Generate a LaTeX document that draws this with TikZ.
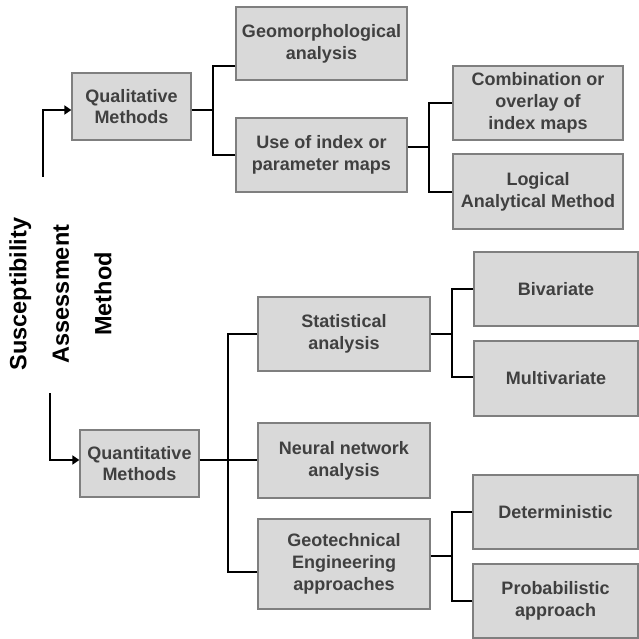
\documentclass[tikz,border=0pt]{standalone}
\usepackage{fontspec}
\setmainfont{Liberation Sans}
\usetikzlibrary{arrows.meta}
\definecolor{boxfill}{HTML}{D9D9D9}
\definecolor{boxline}{HTML}{7F7F7F}
\definecolor{boxtext}{HTML}{404040}
\tikzset{
  box/.style={draw=boxline, line width=1.3pt, fill=boxfill, align=center,
    text=boxtext, font=\fontsize{18}{21.7}\selectfont\bfseries, inner sep=0pt},
  conn/.style={draw=black, line width=2pt},
  arr/.style={conn, -{Triangle[length=7pt,width=9pt]}},
  titletext/.style={rotate=90, align=center, font=\fontsize{23.5}{42.5}\selectfont\bfseries, text=black}
}
\begin{document}
\begin{tikzpicture}[x=1pt,y=-1pt]
\useasboundingbox (0,0) rectangle (639,639);
% boxes
\node[box, minimum width=119pt, minimum height=67pt] (qual) at (131.5,106.5) {Qualitative\\Methods};
\node[box, minimum width=171pt, minimum height=73pt] (geo) at (321.5,43.5) {Geomorphological\\analysis};
\node[box, minimum width=171pt, minimum height=74pt] (useidx) at (321.5,155) {Use of index or\\parameter maps};
\node[box, minimum width=170pt, minimum height=74pt] (comb) at (538,103) {Combination or\\overlay of\\index maps};
\node[box, minimum width=170pt, minimum height=75pt] (logic) at (538,191.5) {Logical\\Analytical Method};
\node[box, minimum width=119pt, minimum height=67pt] (quant) at (139.5,463.5) {Quantitative\\Methods};
\node[box, minimum width=172pt, minimum height=74pt] (stat) at (344,334) {Statistical\\analysis};
\node[box, minimum width=172pt, minimum height=75pt] (neural) at (344,460.5) {Neural network\\analysis};
\node[box, minimum width=172pt, minimum height=90pt] (geotech) at (344,564) {Geotechnical\\Engineering\\approaches};
\node[box, minimum width=164pt, minimum height=74pt] (biv) at (556,289) {Bivariate};
\node[box, minimum width=164pt, minimum height=75pt] (multi) at (556,378.5) {Multivariate};
\node[box, minimum width=165pt, minimum height=74pt] (det) at (555.5,512) {Deterministic};
\node[box, minimum width=165pt, minimum height=74pt] (prob) at (555.5,601) {Probabilistic\\approach};
% title
\node[titletext] (title) at (60.5,294) {Susceptibility\\Assessment\\Method};
% junctions
\coordinate (s1) at (42.7,176.7);
\coordinate (s2) at (50,393);
\coordinate (j1) at (213,110);
\coordinate (ju) at (429.3,146.7);
\coordinate (jq) at (228.3,460);
\coordinate (js) at (452.3,334);
\coordinate (jg) at (451.7,556);
% arrows from title
\draw[arr] (s1) |- (qual.west |- j1);
\draw[arr] (s2) |- (quant.west |- jq);
% qualitative branch
\draw[conn] (qual.east |- j1) -- (j1);
\draw[conn] (geo.west |- 0,66) -| (j1);
\draw[conn] (useidx.west) -| (j1);
\draw[conn] (useidx.east |- ju) -- (ju);
\draw[conn] (comb.west) -| (ju);
\draw[conn] (logic.west) -| (ju);
% quantitative branch
\draw[conn] (quant.east |- jq) -- (neural.west |- jq);
\draw[conn] (stat.west) -| (jq);
\draw[conn] (geotech.west |- 0,571.7) -| (jq);
\draw[conn] (stat.east) -- (js);
\draw[conn] (biv.west) -| (js);
\draw[conn] (multi.west |- 0,376.7) -| (js);
\draw[conn] (geotech.east |- jg) -- (jg);
\draw[conn] (det.west) -| (jg);
\draw[conn] (prob.west) -| (jg);
\end{tikzpicture}
\end{document}
